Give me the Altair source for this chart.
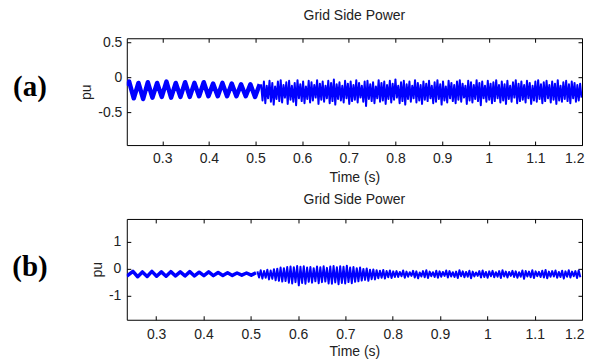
import numpy as np
import pandas as pd
import altair as alt

# ---------------- shared ----------------
x_ticks = [0.3, 0.4, 0.5, 0.6, 0.7, 0.8, 0.9, 1, 1.1, 1.2]
title_text = "Grid Side Power"
x_title = "Time (s)"
y_title = "pu"

# ---------------- panel (a) ----------------
a_x_domain = [0.224, 1.2]
a_y_domain = [-0.97, 0.56]
a_y_ticks = [-0.5, 0, 0.5]

# 50 Hz part (extrema, one every 10 ms, starting 0.229 s) + first sample at 0.224 s
a1_first = [0.224, -0.12]
a1_vals = [-0.06, -0.30, -0.08, -0.31, -0.07, -0.29, -0.08, -0.28, -0.06, -0.29,
           -0.08, -0.28, -0.07, -0.28, -0.08, -0.27, -0.07, -0.27, -0.09, -0.27,
           -0.08, -0.27, -0.09, -0.27, -0.10, -0.27, -0.10, -0.28, -0.10]

# high-frequency part after 0.51 s (alternating highs / lows, 3 ms apart)
a2_hi = [-0.10, -0.06, -0.12, -0.05, -0.08, -0.13, -0.06, -0.04, -0.11, -0.07,
         -0.05, -0.12, -0.08, -0.04, -0.10, -0.06, -0.13, -0.05, -0.07, -0.11,
         -0.04, -0.09, -0.06, -0.12, -0.05, -0.08, -0.03, -0.10, -0.07, -0.12,
         -0.05, -0.09, -0.06, -0.11, -0.04, -0.08, -0.12, -0.06, -0.05, -0.10,
         -0.07, -0.13, -0.04, -0.08, -0.06, -0.11, -0.05, -0.09, -0.03, -0.12,
         -0.07, -0.05, -0.10, -0.06, -0.12, -0.04, -0.08, -0.11, -0.06, -0.09,
         -0.05, -0.12, -0.07, -0.04, -0.10, -0.06, -0.13, -0.05, -0.08, -0.11,
         -0.06, -0.04, -0.09, -0.12, -0.05, -0.07, -0.11, -0.04, -0.08, -0.06,
         -0.12, -0.05, -0.09, -0.07, -0.04, -0.11, -0.06, -0.10, -0.05, -0.12,
         -0.07, -0.04, -0.09, -0.06, -0.11, -0.05, -0.08, -0.12, -0.06, -0.04,
         -0.10, -0.07, -0.05, -0.11, -0.06, -0.09, -0.04, -0.12, -0.07, -0.05,
         -0.10, -0.06, -0.08, -0.11, -0.09]
a2_lo = [-0.33, -0.37, -0.30, -0.35, -0.39, -0.31, -0.34, -0.36, -0.29, -0.38,
         -0.32, -0.35, -0.40, -0.30, -0.34, -0.37, -0.31, -0.36, -0.33, -0.29,
         -0.38, -0.32, -0.35, -0.30, -0.37, -0.34, -0.39, -0.31, -0.33, -0.36,
         -0.30, -0.38, -0.34, -0.32, -0.36, -0.29, -0.35, -0.41, -0.31, -0.34,
         -0.37, -0.30, -0.35, -0.33, -0.38, -0.31, -0.36, -0.32, -0.29, -0.37,
         -0.34, -0.39, -0.31, -0.35, -0.30, -0.36, -0.33, -0.38, -0.32, -0.34,
         -0.30, -0.37, -0.35, -0.31, -0.39, -0.33, -0.36, -0.30, -0.34, -0.37,
         -0.32, -0.35, -0.29, -0.38, -0.33, -0.36, -0.31, -0.34, -0.40, -0.30,
         -0.35, -0.32, -0.37, -0.34, -0.30, -0.36, -0.33, -0.38, -0.31, -0.35,
         -0.29, -0.37, -0.34, -0.32, -0.36, -0.30, -0.38, -0.33, -0.35, -0.31,
         -0.37, -0.34, -0.30, -0.36, -0.32, -0.38, -0.33, -0.35, -0.31, -0.34,
         -0.37, -0.30, -0.35, -0.33, -0.29]

# ---------------- panel (b) ----------------
b_x_domain = [0.238, 1.2]
b_y_domain = [-1.9, 1.85]
b_y_ticks = [-1, 0, 1]

b1_first = [0.238, -0.28]
b1_vals = [-0.10, -0.30, -0.12, -0.29, -0.10, -0.28, -0.12, -0.28, -0.11, -0.27,
           -0.12, -0.27, -0.11, -0.27, -0.13, -0.26, -0.12, -0.26, -0.14, -0.25,
           -0.15, -0.25, -0.16, -0.24, -0.16, -0.24, -0.15]

b2_hi = [-0.10, -0.06, -0.09, -0.04, -0.07, -0.02,
         0.00, 0.04, 0.02, 0.06,
         0.08, 0.05, 0.10, 0.07, 0.09, 0.04,
         0.06, 0.02, 0.08, 0.05, 0.09, 0.03,
         0.08, 0.10, 0.05, 0.09, 0.07, 0.11, 0.04, 0.06,
         0.02, 0.04, -0.01, 0.01, -0.04, -0.03,
         -0.06, -0.08, -0.05, -0.09, -0.07, -0.10,
         -0.09, -0.12, -0.07, -0.11, -0.13, -0.08, -0.10, -0.14, -0.09, -0.06,
         -0.11, -0.13, -0.08, -0.10, -0.12, -0.07, -0.09, -0.13, -0.11, -0.06,
         -0.10, -0.12, -0.08, -0.11, -0.14, -0.09, -0.07, -0.12, -0.10, -0.08,
         -0.13, -0.09, -0.06, -0.11, -0.12, -0.08, -0.10, -0.13, -0.07, -0.09,
         -0.11, -0.06, -0.10, -0.12, -0.08, -0.05, -0.11, -0.09, -0.07, -0.12,
         -0.08, -0.10, -0.06, -0.11, -0.09, -0.07]
b2_lo = [-0.33, -0.37, -0.34, -0.40, -0.38, -0.43,
         -0.45, -0.48, -0.46, -0.52,
         -0.55, -0.50, -0.62, -0.53, -0.56, -0.49,
         -0.52, -0.47, -0.54, -0.50, -0.48, -0.55,
         -0.56, -0.51, -0.58, -0.53, -0.55, -0.50, -0.54, -0.49,
         -0.47, -0.44, -0.42, -0.45, -0.39, -0.40,
         -0.36, -0.34, -0.37, -0.32, -0.35, -0.31,
         -0.31, -0.28, -0.34, -0.30, -0.27, -0.33, -0.36, -0.29, -0.32, -0.35,
         -0.28, -0.31, -0.34, -0.30, -0.27, -0.33, -0.29, -0.31, -0.35, -0.28,
         -0.32, -0.30, -0.36, -0.29, -0.27, -0.33, -0.31, -0.34, -0.28, -0.32,
         -0.30, -0.35, -0.29, -0.33, -0.27, -0.31, -0.34, -0.30, -0.38, -0.29,
         -0.32, -0.35, -0.28, -0.31, -0.33, -0.36, -0.30, -0.29, -0.34, -0.31,
         -0.37, -0.30, -0.33, -0.28, -0.35, -0.32]


def interleave(hi, lo):
    out = []
    for h, l in zip(hi, lo):
        out.extend([h, l])
    return out


def seg1(first, vals, t0):
    t = [first[0]] + [t0 + 0.01 * i for i in range(len(vals))]
    return pd.DataFrame({"t": t, "v": [first[1]] + vals})


def seg2(hi, lo, t0, dt):
    v = interleave(hi, lo)
    return pd.DataFrame({"t": t0 + dt * np.arange(len(v)), "v": v})


FONT = "Liberation Sans"
FS = 14
TXT = "#222222"
BLUE = "#0000ff"
PAD = {"left": 3, "top": 0, "right": 0, "bottom": 0}


def panel(d1, d2, xdom, ydom, yticks, lab, lab_x, lab_y, w, h, w1, w2,
          xlabpad, xtitlepad, ylabpad, title_off):
    xs = alt.Scale(domain=xdom, nice=False, zero=False)
    ys = alt.Scale(domain=ydom, nice=False, zero=False)
    common = dict(grid=False, domain=False, tickSize=4, offset=-4,
                  tickColor="black", tickWidth=1)
    ax_bottom = alt.Axis(orient="bottom", values=x_ticks, labelExpr="datum.value + ''",
                         labelFont=FONT, labelFontSize=FS, labelColor=TXT,
                         labelPadding=xlabpad, title=x_title, titleFont=FONT,
                         titleFontSize=FS, titleFontWeight="normal", titleColor=TXT,
                         titlePadding=xtitlepad, labelFlush=True, labelFlushOffset=2,
                         labelOverlap=False, **common)
    ax_top = alt.Axis(orient="top", values=x_ticks, labels=False, title=None, **common)
    ax_left = alt.Axis(orient="left", values=yticks, labelExpr="datum.value + ''",
                       labelFont=FONT, labelFontSize=FS, labelColor=TXT,
                       labelPadding=ylabpad, title=y_title, titleFont=FONT,
                       titleFontSize=FS, titleFontWeight="normal", titleColor=TXT,
                       titlePadding=4, labelFlush=False, **common)
    ax_right = alt.Axis(orient="right", values=yticks, labels=False, title=None, **common)

    l1 = alt.Chart(d1).mark_line(color=BLUE, strokeWidth=w1, strokeJoin="round",
                                 clip=True).encode(
        x=alt.X("t:Q", scale=xs, axis=ax_bottom),
        y=alt.Y("v:Q", scale=ys, axis=ax_left),
    )
    l2 = alt.Chart(d2).mark_line(color=BLUE, strokeWidth=w2, strokeJoin="round",
                                 clip=True).encode(
        x=alt.X("t:Q", scale=xs, axis=ax_top),
        y=alt.Y("v:Q", scale=ys, axis=ax_right),
    )
    txt = alt.Chart(pd.DataFrame({"lab": [lab]})).mark_text(
        font="Liberation Serif", fontSize=29, fontWeight="bold",
        align="center", baseline="middle", color="black",
    ).encode(x=alt.value(lab_x), y=alt.value(lab_y), text="lab:N")

    return alt.layer(l1, l2, txt).resolve_axis(
        x="independent", y="independent"
    ).properties(
        width=w, height=h,
        title=alt.TitleParams(title_text, font=FONT, fontSize=FS, fontWeight="normal",
                              color=TXT, anchor="middle", frame="group", offset=title_off),
    )


a1 = seg1(a1_first, a1_vals, 0.229)
a2 = seg2(a2_hi, a2_lo, 0.512, 0.003)
b1 = seg1(b1_first, b1_vals, 0.251)
b2 = seg2(b2_hi, b2_lo, 0.514, 0.0035)

pa = panel(a1, a2, a_x_domain, a_y_domain, a_y_ticks, "(a)", -97, 49, 456, 107,
           4.5, 2.0, 6, 5, 5, 12)
pb = panel(b1, b2, b_x_domain, b_y_domain, b_y_ticks, "(b)", -97, 48, 456, 101,
           3.5, 2.0, 7.5, 3, 6, 11)

chart = alt.vconcat(pa, pb, spacing=8).properties(padding=PAD).configure(
    padding=PAD
).configure_view(stroke="black", strokeWidth=1)

chart.save("out.html", embed_options={"renderer": "svg", "actions": False})
